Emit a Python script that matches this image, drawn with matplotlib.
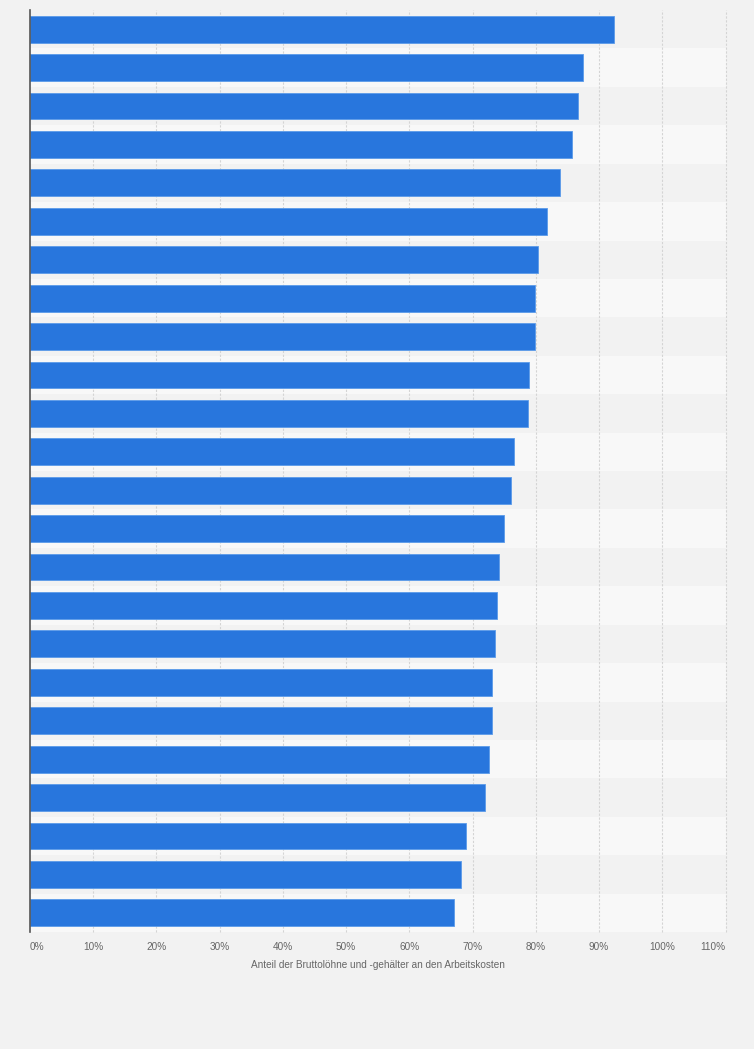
import matplotlib
matplotlib.use("Agg")
from matplotlib import pyplot as plt
import numpy as np

# share of gross wages and salaries in labour costs (%), top to bottom
values = [92.4, 87.4, 86.6, 85.7, 83.8, 81.8, 80.4, 79.9, 79.8, 79.0,
          78.7, 76.6, 76.1, 74.9, 74.1, 73.8, 73.6, 73.1, 73.1, 72.6,
          72.0, 69.0, 68.1, 67.0]
ticks = list(range(0, 111, 10))
tick_labels = ['%d%%' % t for t in ticks]
xlabel = 'Anteil der Bruttolöhne und -gehälter an den Arbeitskosten'

plt.rcParams['font.family'] = ['Liberation Sans', 'DejaVu Sans']

fig = plt.figure(figsize=(7.54, 10.49), dpi=100, facecolor='#f2f2f2')
ax = fig.add_axes([30 / 754, 1 - 932 / 1049, 695.5 / 754, 922 / 1049])
ax.set_facecolor('#f2f2f2')

n = len(values)
y = np.arange(n)

# alternating row bands
for i in range(n):
    ax.axhspan(i - 0.5, i + 0.5, color='#f2f2f2' if i % 2 == 0 else '#f8f8f8',
               lw=0, zorder=0)

for t in ticks[1:]:
    ax.axvline(t, color='#d4d4d4', lw=0.8, ls=(0, (2, 1.5)), zorder=1,
               clip_on=False)

ax.barh(y, values, height=0.7, color='#2876dd', edgecolor='#5b9be9',
        linewidth=0.6, zorder=2)

ax.set_xlim(0, 110)
ax.set_ylim(n - 0.5, -0.5)
ax.set_yticks([])
ax.set_xticks([])

for s in ['top', 'right', 'bottom']:
    ax.spines[s].set_visible(False)
ax.spines['left'].set_color('#555555')
ax.spines['left'].set_linewidth(1.2)

for i, (t, lab) in enumerate(zip(ticks, tick_labels)):
    ha = 'left' if i == 0 else ('right' if i == len(ticks) - 1 else 'center')
    ax.annotate(lab, xy=(t, 0), xycoords=('data', 'axes fraction'),
                xytext=(0, -10.5), textcoords='offset points',
                ha=ha, va='center', fontsize=7.2, color='#666666')

ax.annotate(xlabel, xy=(0.5, 0), xycoords='axes fraction',
            xytext=(0, -23.5), textcoords='offset points',
            ha='center', va='center', fontsize=7.2, color='#666666')

fig.savefig('out.png', dpi=100, facecolor=fig.get_facecolor())
